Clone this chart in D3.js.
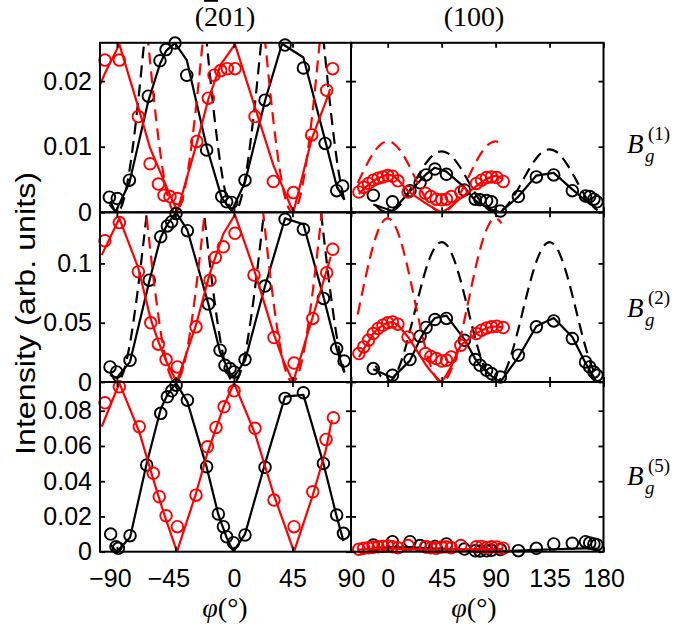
<!DOCTYPE html>
<html>
<head>
<meta charset="utf-8">
<script src="https://cdn.jsdelivr.net/npm/d3@7"></script>
<style>
  body { margin: 0; background: #fff; }
  svg { display: block; }
</style>
</head>
<body>
<svg id="chart" width="675" height="626"></svg>
<script>
// ---- axis ticks ----
var leftTicks = [-90, -45, 0, 45, 90];
var rightTicks = [0, 45, 90, 135, 180];
var yTicksRow1 = [0, 0.01, 0.02];
var yTicksRow2 = [0, 0.05, 0.1];
var yTicksRow3 = [0, 0.02, 0.04, 0.06, 0.08];
var colTitles = ['(201)', '(100)'];
var rowModes = ['(1)', '(2)', '(5)'];

// ---- left column, (-201) face ----
var l1BlackPhi = [-95.8, -89.7, -80.4, -65.8, -56.9, -52.2, -45.3, -36.3, -21.0, -9.4, -5.6, -1.7, 8.5, 23.9, 39.3, 53.4, 70.1, 79.0, 83.6];
var l1Black = [0.0023, 0.0021, 0.0049, 0.0177, 0.0231, 0.0248, 0.0258, 0.0209, 0.0095, 0.0024, 0.0016, 0.0015, 0.0049, 0.0171, 0.0255, 0.0220, 0.0105, 0.0033, 0.0040];
var l1BlackFitPhi = [-95.8, -91, -80.4, -65.8, -56.9, -52.2, -45.3, -36.3, -21.0, -9.4, -1.7, 8.5, 23.9, 37, 53.4, 70.1, 79.0, 84.2];
var l1BlackFit = [0.0012, 0.0001, 0.0045, 0.0170, 0.0226, 0.0246, 0.0258, 0.0232, 0.0100, 0.0022, 0.0002, 0.0046, 0.0170, 0.0257, 0.0236, 0.0110, 0.0040, 0.0021];
var l1RedPhi = [-99.2, -88.1, -73.5, -64.5, -58.1, -53.8, -49.2, -43.5, -28.6, -19.7, -15.3, -10.2, -5.1, 0.8, 16.2, 30.3, 45.7, 59.8, 71.3, 75.9];
var l1Red = [0.0232, 0.0232, 0.0146, 0.0074, 0.0043, 0.0026, 0.0024, 0.0021, 0.0108, 0.0174, 0.0209, 0.0216, 0.0219, 0.0219, 0.0146, 0.0047, 0.0030, 0.0118, 0.0186, 0.0219];
var l1RedFitPhi = [-103, -99.2, -88.1, -73.5, -64.5, -58.1, -50, -43.5, -28.6, -19.7, -10.2, 0.8, 16.2, 30.3, 45.7, 59.8, 71.3, 74];
var l1RedFit = [0.0194, 0.0212, 0.0256, 0.0160, 0.0098, 0.0068, 0.0030, 0.0002, 0.0105, 0.0172, 0.0225, 0.0256, 0.0160, 0.0072, 0.0000, 0.0112, 0.0172, 0.0188];

var l2BlackPhi = [-95.3, -90.2, -79.9, -65.1, -56.3, -51.2, -47.9, -44.5, -35.8, -19.7, -10.7, -6.9, -3.0, 0.1, 8.5, 23.9, 39.3, 53.4, 68.8, 79.0, 84.7];
var l2Black = [0.0127, 0.0085, 0.0183, 0.0859, 0.1225, 0.1316, 0.1352, 0.1420, 0.1276, 0.0657, 0.0268, 0.0141, 0.0113, 0.0085, 0.0189, 0.0809, 0.1372, 0.1288, 0.0705, 0.0282, 0.0177];
var l2BlackFitPhi = [-95.3, -90.2, -79.9, -65.1, -56.3, -51.2, -44.5, -35.8, -19.7, -10.7, -3.0, 0.1, 8.5, 23.9, 39.3, 53.4, 68.8, 79.0, 84.7];
var l2BlackFit = [0.0060, 0.0035, 0.0170, 0.0850, 0.1220, 0.1330, 0.1430, 0.1280, 0.0660, 0.0250, 0.0075, 0.0045, 0.0180, 0.0810, 0.1380, 0.1330, 0.0720, 0.0280, 0.0080];
var l2RedPhi = [-99.2, -88.1, -73.5, -64.0, -58.1, -52.2, -43.5, -29.2, -18.4, -14.3, -8.1, 0.8, 15.4, 30.8, 46.2, 60.6, 71.3, 76.0];
var l2Red = [0.1191, 0.1344, 0.0930, 0.0499, 0.0319, 0.0189, 0.0127, 0.0465, 0.0859, 0.1050, 0.1140, 0.1254, 0.0902, 0.0375, 0.0160, 0.0536, 0.0921, 0.1119];
var l2RedFitPhi = [-101.7, -88.1, -73.5, -64.0, -58.1, -52.2, -44, -29.2, -18.4, -8.1, 0.8, 15.4, 30.8, 38, 45.5, 60.6, 71.3, 74.4];
var l2RedFit = [0.107, 0.138, 0.096, 0.053, 0.034, 0.018, 0.0, 0.048, 0.092, 0.125, 0.141, 0.095, 0.040, 0.018, 0.0, 0.055, 0.094, 0.1056];

var l3BlackPhi = [-94.8, -90.7, -88.9, -79.9, -67.1, -56.3, -51.2, -47.9, -44.5, -35.8, -21.0, -12.0, -8.1, -5.6, -0.4, 8.5, 23.9, 39.3, 53.4, 68.8, 79.0, 84.2];
var l3Black = [0.0100, 0.0028, 0.0019, 0.0091, 0.0492, 0.0785, 0.0879, 0.0913, 0.0945, 0.0860, 0.0482, 0.0214, 0.0142, 0.0085, 0.0051, 0.0095, 0.0479, 0.0870, 0.0902, 0.0501, 0.0208, 0.0104];
var l3BlackFitPhi = [-94.8, -90.2, -79.9, -67.1, -56.3, -51.2, -44.5, -35.8, -21.0, -12.0, -5.6, -0.4, 8.5, 23.9, 39.3, 53.4, 68.8, 79.0, 84.2];
var l3BlackFit = [0.0040, 0.0000, 0.0080, 0.0500, 0.0810, 0.0890, 0.0957, 0.0850, 0.0480, 0.0210, 0.0080, 0.0000, 0.0100, 0.0500, 0.0880, 0.0890, 0.0500, 0.0200, 0.0060];
var l3RedPhi = [-99.2, -88.1, -72.8, -62.0, -57.4, -52.2, -43.5, -29.2, -20.4, -13.8, -7.6, 0.1, 16.2, 30.8, 46.2, 60.6, 70.8, 76.5];
var l3Red = [0.0845, 0.0936, 0.0709, 0.0445, 0.0312, 0.0204, 0.0142, 0.0321, 0.0595, 0.0705, 0.0822, 0.0913, 0.0700, 0.0293, 0.0142, 0.0340, 0.0637, 0.0760];
var l3RedFitPhi = [-101.7, -88.1, -72.8, -62.0, -57.4, -52.2, -43.8, -29.2, -20.4, -13.8, -7.6, 0.1, 16.2, 30.8, 46.2, 60.6, 70.8, 75.2];
var l3RedFit = [0.0709, 0.0957, 0.0680, 0.0410, 0.0300, 0.0180, 0.0000, 0.0330, 0.0560, 0.0700, 0.0830, 0.0957, 0.0670, 0.0320, 0.0000, 0.0320, 0.0580, 0.0748];

// dashed model curves, left column
var leftDashBlackPhi = [-95, -90, -85, -80, -75, -70, -65, -60, -55, -50, -45, -40, -35, -30, -25, -20, -15, -10, -5, 0, 5, 10, 15, 20, 25, 30, 35, 40, 45, 50, 55, 60, 65, 70, 75, 80, 85];
var l1BlackDash = [0.00175, 0, 0.00175, 0.0068, 0.0145, 0.024, 0.034, 0.0435, 0.0512, 0.0563, 0.058, 0.0563, 0.0512, 0.0435, 0.034, 0.024, 0.0145, 0.0068, 0.00175, 0, 0.00175, 0.0068, 0.0145, 0.024, 0.034, 0.0435, 0.0512, 0.0563, 0.058, 0.0563, 0.0512, 0.0435, 0.034, 0.024, 0.0145, 0.0068, 0.00175];
var l2BlackDash = [0.0083, 0, 0.0083, 0.0322, 0.0688, 0.1136, 0.1614, 0.2063, 0.2428, 0.2668, 0.275, 0.2668, 0.2428, 0.2063, 0.1614, 0.1136, 0.0688, 0.0322, 0.0083, 0, 0.0083, 0.0322, 0.0688, 0.1136, 0.1614, 0.2063, 0.2428, 0.2668, 0.275, 0.2668, 0.2428, 0.2063, 0.1614, 0.1136, 0.0688, 0.0322, 0.0083];
var leftDashRedPhi = [-105, -100, -95, -90, -85, -80, -75, -70, -65, -60, -55, -50, -45, -40, -35, -30, -25, -20, -15, -10, -5, 0, 5, 10, 15, 20, 25, 30, 35, 40, 45, 50, 55, 60, 65, 70, 75, 80];
var l1RedDash = [0.0435, 0.0512, 0.0563, 0.058, 0.0563, 0.0512, 0.0435, 0.034, 0.024, 0.0145, 0.0068, 0.00175, 0, 0.00175, 0.0068, 0.0145, 0.024, 0.034, 0.0435, 0.0512, 0.0563, 0.058, 0.0563, 0.0512, 0.0435, 0.034, 0.024, 0.0145, 0.0068, 0.00175, 0, 0.00175, 0.0068, 0.0145, 0.024, 0.034, 0.0435, 0.0512];
var l2RedDash = [0.2138, 0.2517, 0.2765, 0.285, 0.2765, 0.2517, 0.2138, 0.1673, 0.1177, 0.0713, 0.0333, 0.0086, 0, 0.0086, 0.0333, 0.0713, 0.1177, 0.1673, 0.2138, 0.2517, 0.2765, 0.285, 0.2765, 0.2517, 0.2138, 0.1673, 0.1177, 0.0713, 0.0333, 0.0086, 0, 0.0086, 0.0333, 0.0713, 0.1177, 0.1673, 0.2138, 0.2517];

// ---- right column, (100) face ----
var rBlackPhi = [-12, 4, 18.6, 27, 32, 39.4, 49, 64, 73, 77, 82.5, 86.6, 94, 109, 124, 138.5, 154, 165, 168.5, 172, 174.5];
var r1Black = [0.0026, 0.0016, 0.0033, 0.0045, 0.0057, 0.0066, 0.0058, 0.0034, 0.0020, 0.0019, 0.0018, 0.0016, 0.0002, 0.0024, 0.0054, 0.0057, 0.0033, 0.0025, 0.0024, 0.0020, 0.0016];
var r2Black = [0.0113, 0.0057, 0.0189, 0.0386, 0.0460, 0.0527, 0.0536, 0.0352, 0.0189, 0.0141, 0.0099, 0.0071, 0.0042, 0.0226, 0.0465, 0.0515, 0.0367, 0.0169, 0.0127, 0.0085, 0.0057];
var r3Black = [0.0038, 0.0057, 0.0057, 0.0035, 0.0028, 0.0030, 0.0044, 0.0015, 0.0005, 0.0004, 0.0005, 0.0008, 0.0012, 0.0006, 0.0019, 0.0044, 0.0048, 0.0057, 0.0050, 0.0044, 0.0040];
var r1BlackFit = [0.0012, 0.0002, 0.0032, 0.0048, 0.0058, 0.0068, 0.0062, 0.0038, 0.0018, 0.0013, 0.0008, 0.0004, 0.0000, 0.0024, 0.0056, 0.0060, 0.0035, 0.0018, 0.0013, 0.0009, 0.0006];
var r2BlackFit = [0.0108, 0.0035, 0.0180, 0.0360, 0.0450, 0.0540, 0.0560, 0.0360, 0.0195, 0.0140, 0.0090, 0.0050, 0.0000, 0.0210, 0.0470, 0.0540, 0.0380, 0.0160, 0.0100, 0.0040, 0.0000];
var r3BlackFit = [0.0022, 0.0024, 0.0025, 0.0022, 0.0020, 0.0018, 0.0016, 0.0010, 0.0006, 0.0005, 0.0004, 0.0004, 0.0004, 0.0006, 0.0010, 0.0014, 0.0017, 0.0019, 0.0019, 0.0018, 0.0018];

var rRedPhi = [-24, -20, -16, -12, -8, -4, 0, 4, 8.5, 17, 31.5, 36, 40.5, 45, 49, 53, 61, 74, 78.3, 82.5, 86.6, 91, 96.4];
var r1Red = [0.0031, 0.0038, 0.0044, 0.0049, 0.0052, 0.0054, 0.0056, 0.0055, 0.0048, 0.0031, 0.0029, 0.0024, 0.0020, 0.0019, 0.0020, 0.0024, 0.0031, 0.0044, 0.0049, 0.0053, 0.0054, 0.0053, 0.0047];
var r2Red = [0.0240, 0.0296, 0.0352, 0.0409, 0.0451, 0.0479, 0.0499, 0.0507, 0.0488, 0.0380, 0.0240, 0.0215, 0.0198, 0.0177, 0.0183, 0.0211, 0.0310, 0.0409, 0.0437, 0.0455, 0.0465, 0.0470, 0.0459];
var r3Red = [0.0014, 0.0019, 0.0022, 0.0025, 0.0028, 0.0030, 0.0032, 0.0028, 0.0022, 0.0035, 0.0028, 0.0022, 0.0019, 0.0026, 0.0028, 0.0022, 0.0035, 0.0028, 0.0030, 0.0022, 0.0028, 0.0026, 0.0020];
var r1RedFit = [0.0028, 0.0036, 0.0042, 0.0048, 0.0052, 0.0055, 0.0058, 0.0056, 0.0050, 0.0032, 0.0014, 0.0009, 0.0004, 0.0000, 0.0004, 0.0009, 0.0022, 0.0040, 0.0046, 0.0051, 0.0054, 0.0056, 0.0050];
var r2RedFit = [0.0210, 0.0280, 0.0340, 0.0410, 0.0450, 0.0480, 0.0500, 0.0505, 0.0480, 0.0380, 0.0150, 0.0090, 0.0040, 0.0000, 0.0060, 0.0130, 0.0310, 0.0410, 0.0435, 0.0455, 0.0465, 0.0468, 0.0460];
var r3RedFit = [0.0012, 0.0013, 0.0014, 0.0015, 0.0016, 0.0016, 0.0017, 0.0017, 0.0016, 0.0015, 0.0013, 0.0012, 0.0012, 0.0012, 0.0012, 0.0013, 0.0014, 0.0015, 0.0015, 0.0015, 0.0015, 0.0015, 0.0015];

// dashed model curves, right column
var rightDashBlackPhi = [-10, -5, 0, 5, 10, 15, 20, 25, 30, 35, 40, 45, 50, 55, 60, 65, 70, 75, 80, 85, 90, 95, 100, 105, 110, 115, 120, 125, 130, 135, 140, 145, 150, 155, 160, 165, 170, 175];
var r1BlackDash = [0.00109, 0.00028, 0, 0.00028, 0.00109, 0.00233, 0.00384, 0.00546, 0.00698, 0.00821, 0.00902, 0.0093, 0.00902, 0.00821, 0.00698, 0.00546, 0.00384, 0.00233, 0.00109, 0.00028, 0, 0.00029, 0.00112, 0.0024, 0.00396, 0.00564, 0.0072, 0.00848, 0.00931, 0.0096, 0.00931, 0.00848, 0.0072, 0.00564, 0.00396, 0.0024, 0.00112, 0.00029];
var r2BlackDash = [0.0138, 0.00356, 0, 0.00356, 0.0138, 0.0295, 0.0487, 0.0693, 0.0885, 0.1042, 0.1145, 0.118, 0.1145, 0.1042, 0.0885, 0.0693, 0.0487, 0.0295, 0.0138, 0.00356, 0, 0.00356, 0.0138, 0.0295, 0.0487, 0.0693, 0.0885, 0.1042, 0.1145, 0.118, 0.1145, 0.1042, 0.0885, 0.0693, 0.0487, 0.0295, 0.0138, 0.00356];
var rightDashRedPhi = [-25, -20, -15, -10, -5, 0, 5, 10, 15, 20, 25, 30, 35, 40, 45, 50, 55, 60, 65, 70, 75, 80, 85, 90, 95];
var r1RedDash = [0.00446, 0.00634, 0.0081, 0.00954, 0.01048, 0.0108, 0.01048, 0.00954, 0.0081, 0.00634, 0.00446, 0.0027, 0.00126, 0.00033, 0, 0.00033, 0.00126, 0.0027, 0.00446, 0.00634, 0.0081, 0.00954, 0.01048, 0.0108, 0.01048];
var r2RedDash = [0.057, 0.081, 0.1035, 0.1219, 0.1339, 0.138, 0.1339, 0.1219, 0.1035, 0.081, 0.057, 0.0345, 0.0161, 0.00417, 0, 0.00417, 0.0161, 0.0345, 0.057, 0.081, 0.1035, 0.1219, 0.1339, 0.138, 0.1339];

// ---- layout ----
var SANS = '"Liberation Sans", Arial, Helvetica, sans-serif';
var SERIF = '"Liberation Serif", "Times New Roman", serif';
var BLACK = '#000', RED = '#ff0000';

var cols = [
    {x0: 100, x1: 351, domain: [-103, 90], ticks: leftTicks, titleX: 225},
    {x0: 351, x1: 603.5, domain: [-30.6, 180], ticks: rightTicks, titleX: 474}
];
var rows = [
    {y0: 42.8, y1: 212.3, top: 0.02584, ticks: yTicksRow1, labelY: 153},
    {y0: 212.3, y1: 382, top: 0.1431, ticks: yTicksRow2, labelY: 317},
    {y0: 382, y1: 551.7, top: 0.0963, ticks: yTicksRow3, labelY: 485}
];

function S(phi, val, color, kind) { return {phi: phi, val: val, color: color, kind: kind}; }

var panels = [
    {col: 0, row: 0, series: [S(l1BlackPhi, l1Black, BLACK, 'dot'), S(l1BlackFitPhi, l1BlackFit, BLACK, 'line'), S(leftDashBlackPhi, l1BlackDash, BLACK, 'dash'),
                              S(l1RedPhi, l1Red, RED, 'dot'), S(l1RedFitPhi, l1RedFit, RED, 'line'), S(leftDashRedPhi, l1RedDash, RED, 'dash')]},
    {col: 0, row: 1, series: [S(l2BlackPhi, l2Black, BLACK, 'dot'), S(l2BlackFitPhi, l2BlackFit, BLACK, 'line'), S(leftDashBlackPhi, l2BlackDash, BLACK, 'dash'),
                              S(l2RedPhi, l2Red, RED, 'dot'), S(l2RedFitPhi, l2RedFit, RED, 'line'), S(leftDashRedPhi, l2RedDash, RED, 'dash')]},
    {col: 0, row: 2, series: [S(l3BlackPhi, l3Black, BLACK, 'dot'), S(l3BlackFitPhi, l3BlackFit, BLACK, 'line'),
                              S(l3RedPhi, l3Red, RED, 'dot'), S(l3RedFitPhi, l3RedFit, RED, 'line')]},
    {col: 1, row: 0, series: [S(rBlackPhi, r1Black, BLACK, 'dot'), S(rBlackPhi, r1BlackFit, BLACK, 'line'), S(rightDashBlackPhi, r1BlackDash, BLACK, 'dash'),
                              S(rRedPhi, r1Red, RED, 'dot'), S(rRedPhi, r1RedFit, RED, 'line'), S(rightDashRedPhi, r1RedDash, RED, 'dash')]},
    {col: 1, row: 1, series: [S(rBlackPhi, r2Black, BLACK, 'dot'), S(rBlackPhi, r2BlackFit, BLACK, 'line'), S(rightDashBlackPhi, r2BlackDash, BLACK, 'dash'),
                              S(rRedPhi, r2Red, RED, 'dot'), S(rRedPhi, r2RedFit, RED, 'line'), S(rightDashRedPhi, r2RedDash, RED, 'dash')]},
    {col: 1, row: 2, series: [S(rBlackPhi, r3Black, BLACK, 'dot'), S(rBlackPhi, r3BlackFit, BLACK, 'line'),
                              S(rRedPhi, r3Red, RED, 'dot'), S(rRedPhi, r3RedFit, RED, 'line')]}
];

var svg = d3.select('#chart');
var defs = svg.append('defs');

function fmtX(v) { return v < 0 ? '\u2212' + Math.abs(v) : String(v); }

function styleAxis(g) {
    g.select('.domain').remove();
    g.selectAll('.tick line').attr('stroke', '#000').attr('stroke-width', 1.8);
    g.attr('font-family', SANS).attr('font-size', 25);
    g.selectAll('.tick text').attr('fill', '#000');
}

panels.forEach(function(p) {
    var c = cols[p.col], r = rows[p.row];
    var x = d3.scaleLinear().domain(c.domain).range([c.x0, c.x1]);
    var y = d3.scaleLinear().domain([0, r.top]).range([r.y1, r.y0]);
    var clipId = 'clip' + p.col + '' + p.row;

    defs.append('clipPath').attr('id', clipId)
        .append('rect')
        .attr('x', c.x0).attr('y', r.y0)
        .attr('width', c.x1 - c.x0).attr('height', r.y1 - r.y0);

    var g = svg.append('g');
    p.series.forEach(function(s) {
        var pts = d3.zip(s.phi, s.val);
        if (s.kind === 'dot') {
            g.append('g').selectAll('circle')
                .data(pts)
                .enter().append('circle')
                .attr('cx', function(d) { return x(d[0]); })
                .attr('cy', function(d) { return y(d[1]); })
                .attr('r', 5.8)
                .attr('fill', 'none')
                .attr('stroke', s.color)
                .attr('stroke-width', 1.9);
        } else {
            var line = d3.line()
                .x(function(d) { return x(d[0]); })
                .y(function(d) { return y(d[1]); });
            if (s.kind === 'dash') line.curve(d3.curveMonotoneX);
            g.append('path')
                .attr('d', line(pts))
                .attr('clip-path', 'url(#' + clipId + ')')
                .attr('fill', 'none')
                .attr('stroke', s.color)
                .attr('stroke-width', 2.2)
                .attr('stroke-linejoin', 'round')
                .attr('stroke-dasharray', s.kind === 'dash' ? '12,7' : null);
        }
    });

    // inward ticks on all four sides
    var yl = d3.axisLeft(y).tickValues(r.ticks).tickSizeInner(-5).tickSizeOuter(0).tickPadding(8)
        .tickFormat(p.col === 0 ? function(v) { return String(v); } : '');
    svg.append('g').attr('transform', 'translate(' + c.x0 + ',0)').call(yl).call(styleAxis);
    var yr = d3.axisRight(y).tickValues(r.ticks).tickSizeInner(-5).tickSizeOuter(0).tickFormat('');
    svg.append('g').attr('transform', 'translate(' + c.x1 + ',0)').call(yr).call(styleAxis);
    var xt = d3.axisTop(x).tickValues(c.ticks).tickSizeInner(-5).tickSizeOuter(0).tickFormat('');
    svg.append('g').attr('transform', 'translate(0,' + r.y0 + ')').call(xt).call(styleAxis);
    var xb = d3.axisBottom(x).tickValues(c.ticks).tickSizeInner(-5).tickSizeOuter(0).tickPadding(17.5)
        .tickFormat(p.row === 2 ? fmtX : '');
    var gb = svg.append('g').attr('transform', 'translate(0,' + r.y1 + ')').call(xb).call(styleAxis);
    gb.selectAll('.tick text').filter(function(d) { return d < 0; }).attr('dx', '-0.28em');

    svg.append('rect')
        .attr('x', c.x0).attr('y', r.y0)
        .attr('width', c.x1 - c.x0).attr('height', r.y1 - r.y0)
        .attr('fill', 'none').attr('stroke', '#000').attr('stroke-width', 2);
});

// column titles and x axis titles
cols.forEach(function(c, i) {
    var t = svg.append('text')
        .attr('x', c.titleX).attr('y', 26)
        .attr('text-anchor', 'middle')
        .attr('font-family', SERIF).attr('font-size', 28);
    if (i === 0) {
        t.append('tspan').text('(');
        t.append('tspan').text('2').attr('text-decoration', 'overline');
        t.append('tspan').text('01)');
    } else {
        t.text(colTitles[i]);
    }
    var xt = svg.append('text')
        .attr('x', c.titleX).attr('y', 617)
        .attr('text-anchor', 'middle')
        .attr('font-family', SERIF).attr('font-size', 28);
    xt.append('tspan').attr('font-style', 'italic').text('\u03c6');
    xt.append('tspan').text('(\u00b0)');
});

// row labels B_g^(n)
rows.forEach(function(r, i) {
    var g = svg.append('g').attr('font-family', SERIF).attr('fill', '#000');
    g.append('text').attr('x', 627).attr('y', r.labelY)
        .attr('font-size', 27).attr('font-style', 'italic').text('B');
    g.append('text').attr('x', 645).attr('y', r.labelY + 9)
        .attr('font-size', 19).attr('font-style', 'italic').text('g');
    g.append('text').attr('x', 648).attr('y', r.labelY - 13.5)
        .attr('font-size', 19).text(rowModes[i]);
});

// y axis title
svg.append('text')
    .attr('transform', 'translate(35,313.5) rotate(-90)')
    .attr('text-anchor', 'middle')
    .attr('font-family', SANS).attr('font-size', 27)
    .attr('textLength', 283).attr('lengthAdjust', 'spacingAndGlyphs')
    .text('Intensity (arb. units)');
</script>
</body>
</html>
